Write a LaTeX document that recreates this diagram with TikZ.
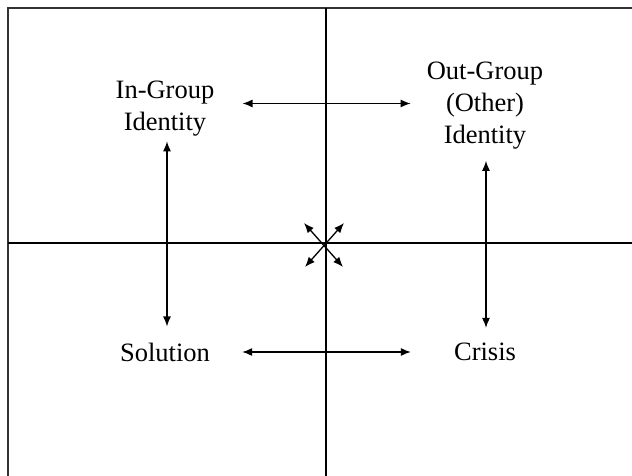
\documentclass[tikz,border=0pt]{standalone}
\usepackage{fontspec}
\setmainfont{Liberation Serif}
\usepackage{tikz}
\usetikzlibrary{arrows.meta}
\tikzstyle{label}=[inner sep=0pt, align=center, font=\fontsize{26.5}{32}\selectfont]
\tikzstyle{twoway}=[line width=1.3pt, {Latex[length=10pt,width=8pt]}-{Latex[length=10pt,width=8pt]}]
\tikzstyle{axis}=[line width=1.3pt]

\begin{document}
\begin{tikzpicture}[x=1pt,y=-1pt]
	\useasboundingbox (0,0) rectangle (632,476);
	\clip (0,0) rectangle (632,476);
	\draw[line width=1.8pt, black!80] (8,8) rectangle (650,490);
	\draw[axis] (326,8) -- (326,490);
	\draw[axis] (8,243) -- (650,243);
	\node[label] (ingroup) at (165,108.5) {In-Group\\Identity};
	\node[label] (outgroup) at (485,106) {Out-Group\\(Other)\\Identity};
	\node[label] (solution) at (165,352) {Solution};
	\node[label] (crisis) at (485,352) {Crisis};
	\draw[twoway, shorten <=28pt, shorten >=16pt] ([yshift=5pt]ingroup.east) -- ([yshift=5pt]ingroup.east -| outgroup.west);
	\draw[twoway, shorten <=32pt, shorten >=43pt] (solution.east) -- (crisis.west);
	\draw[twoway, shorten <=5pt, shorten >=16pt] ([xshift=2pt]ingroup.south) -- ([xshift=2pt]solution.north);
	\draw[twoway, shorten <=11pt, shorten >=15pt] ([xshift=1pt]outgroup.south) -- ([xshift=1pt]crisis.north);
	\coordinate (nw) at (304,223);
	\coordinate (ne) at (344,223);
	\coordinate (sw) at (305,267);
	\coordinate (se) at (343,267);
	\draw[twoway] (nw) -- (se);
	\draw[twoway] (ne) -- (sw);
\end{tikzpicture}
\end{document}
